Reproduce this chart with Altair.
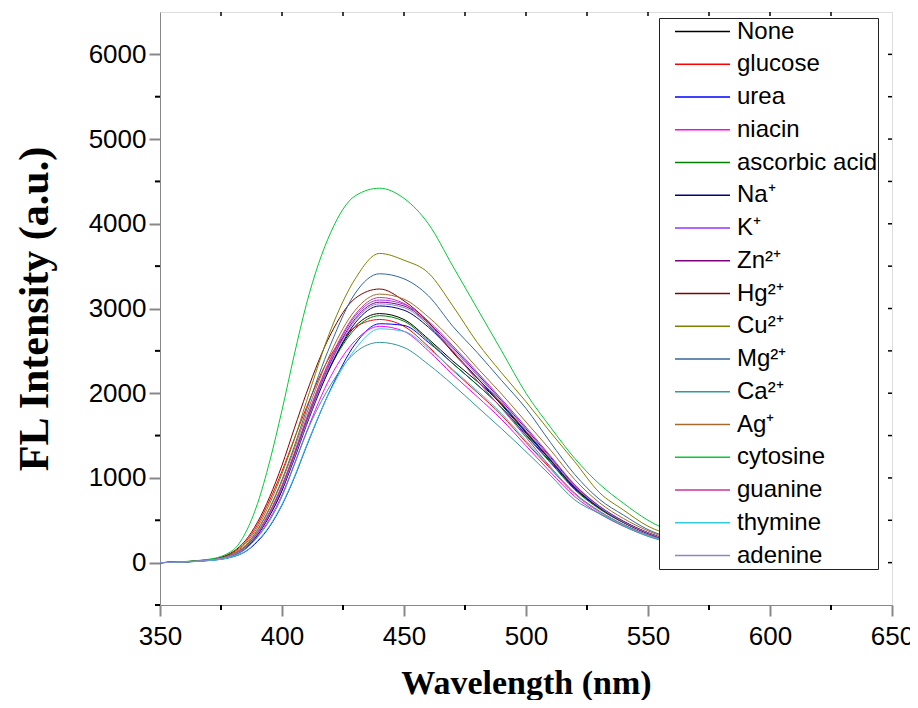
import altair as alt
import pandas as pd

# ---------------- data ----------------
wavelength = [350, 370, 380, 385, 390, 395, 400, 405, 410, 420, 430, 440, 450,
              460, 470, 480, 490, 500, 510, 520, 530, 540, 550, 560, 580, 600]

s_none = [0, 30, 90, 170, 330, 560, 850, 1250, 1650, 2330, 2790, 2940, 2870, 2640, 2380, 2140, 1870, 1540, 1210, 880, 650, 480, 350, 250, 130, 70]
s_glucose = [0, 32, 120, 240, 450, 740, 1080, 1460, 1830, 2450, 2780, 2870, 2790, 2550, 2270, 2010, 1740, 1420, 1110, 810, 600, 445, 325, 235, 122, 65]
s_urea = [0, 25, 70, 130, 250, 430, 680, 1000, 1370, 2050, 2580, 2820, 2800, 2600, 2350, 2100, 1830, 1510, 1190, 870, 645, 475, 345, 248, 128, 68]
s_niacin = [0, 28, 85, 160, 310, 520, 800, 1160, 1540, 2200, 2620, 2790, 2730, 2500, 2220, 1960, 1690, 1380, 1070, 780, 580, 430, 315, 228, 118, 62]
s_ascorbic = [0, 30, 92, 180, 345, 580, 880, 1260, 1650, 2320, 2760, 2915, 2850, 2620, 2350, 2100, 1830, 1500, 1180, 860, 635, 470, 345, 245, 128, 68]
s_na = [0, 30, 88, 170, 330, 560, 860, 1220, 1620, 2320, 2830, 3030, 2980, 2780, 2490, 2180, 1860, 1530, 1210, 885, 650, 475, 345, 245, 128, 68]
s_k = [0, 30, 95, 185, 355, 600, 910, 1280, 1690, 2400, 2910, 3100, 3050, 2850, 2560, 2250, 1930, 1600, 1260, 920, 670, 490, 355, 255, 130, 70]
s_zn = [0, 30, 90, 180, 345, 585, 890, 1260, 1660, 2370, 2880, 3075, 3030, 2830, 2540, 2230, 1910, 1580, 1245, 910, 665, 485, 350, 250, 130, 70]
s_hg = [0, 35, 130, 260, 480, 780, 1150, 1580, 2000, 2700, 3120, 3230, 3090, 2840, 2480, 2180, 1880, 1550, 1220, 895, 655, 485, 352, 252, 132, 70]
s_cu = [0, 30, 110, 220, 420, 700, 1050, 1450, 1900, 2750, 3350, 3650, 3570, 3420, 3030, 2600, 2240, 1900, 1540, 1190, 830, 620, 430, 320, 170, 90]
s_mg = [0, 30, 100, 200, 390, 650, 980, 1370, 1800, 2580, 3180, 3410, 3350, 3150, 2790, 2480, 2150, 1820, 1420, 1040, 750, 560, 390, 285, 150, 80]
s_ca = [0, 25, 80, 160, 300, 500, 780, 1150, 1530, 2100, 2480, 2600, 2540, 2340, 2100, 1840, 1580, 1310, 1030, 740, 580, 430, 310, 230, 120, 65]
s_ag = [0, 30, 100, 200, 380, 640, 960, 1340, 1750, 2480, 2980, 3170, 3110, 2900, 2620, 2300, 1990, 1660, 1330, 980, 710, 520, 375, 270, 140, 75]
s_cytosine = [0, 40, 150, 350, 700, 1200, 1800, 2450, 3050, 3900, 4330, 4420, 4300, 4000, 3500, 3000, 2500, 2000, 1600, 1230, 930, 700, 500, 360, 190, 100]
s_guanine = [0, 30, 95, 185, 355, 600, 910, 1290, 1700, 2420, 2930, 3130, 3060, 2800, 2500, 2150, 1820, 1480, 1130, 820, 610, 450, 330, 238, 124, 65]
s_thymine = [0, 25, 72, 135, 260, 440, 690, 1010, 1380, 2040, 2520, 2760, 2730, 2530, 2280, 2030, 1760, 1440, 1120, 810, 600, 440, 320, 232, 120, 63]
s_adenine = [0, 30, 90, 175, 340, 575, 875, 1240, 1640, 2350, 2860, 3055, 3010, 2810, 2520, 2210, 1890, 1560, 1230, 900, 660, 480, 350, 250, 130, 70]

series_names = ["None", "glucose", "urea", "niacin", "ascorbic acid", "Na⁺", "K⁺",
                "Zn²⁺", "Hg²⁺", "Cu²⁺", "Mg²⁺", "Ca²⁺", "Ag⁺", "cytosine",
                "guanine", "thymine", "adenine"]
series_values = [s_none, s_glucose, s_urea, s_niacin, s_ascorbic, s_na, s_k, s_zn,
                 s_hg, s_cu, s_mg, s_ca, s_ag, s_cytosine, s_guanine, s_thymine,
                 s_adenine]
series_colors = ["#000000", "#ff0000", "#0000ff", "#ff00ff", "#008000", "#000080",
                 "#9933ff", "#800080", "#800000", "#808000", "#336699", "#339999",
                 "#a66a2e", "#00cc33", "#cc3399", "#33ccdd", "#8888cc"]

x_major = [350, 400, 450, 500, 550, 600, 650]
x_minor = [375, 425, 475, 525, 575, 625]
x_top = [375, 400, 425, 450, 475, 500, 525, 550, 575, 600, 625]
y_major = [0, 1000, 2000, 3000, 4000, 5000, 6000]
y_minor = [-500, 500, 1500, 2500, 3500, 4500, 5500]
y_right = [0, 500, 1000, 1500, 2000, 2500, 3000, 3500, 4000, 4500, 5000, 5500, 6000]

rows = []
for name, vals in zip(series_names, series_values):
    for w, v in zip(wavelength, vals):
        rows.append({"wavelength": w, "intensity": v, "series": name})
df = pd.DataFrame(rows)

W, H = 732, 593
xscale = alt.Scale(domain=[350, 650], nice=False, zero=False)
yscale = alt.Scale(domain=[-500, 6500], nice=False, zero=False)

x_axis = alt.Axis(values=x_major, format="d", grid=False, title="Wavelength (nm)",
                  tickSize=11, tickWidth=2, labelPadding=7, labelFontSize=26,
                  labelFlush=False, titleFont="Liberation Serif",
                  titleFontWeight="bold", titleFontSize=34,
                  titleBaseline="alphabetic", titleY=88)
y_axis = alt.Axis(values=y_major, format="d", grid=False, title="FL Intensity (a.u.)",
                  tickSize=11, tickWidth=2, labelPadding=3, labelFontSize=26,
                  labelFlush=False, titleFont="Liberation Serif",
                  titleFontWeight="bold", titleFontSize=42,
                  titleBaseline="alphabetic", titleX=-113)

legend = alt.Legend(orient="none", legendX=499, legendY=6, direction="vertical",
                    symbolType="stroke", symbolSize=3025, symbolStrokeWidth=1.5,
                    symbolOffset=15, labelOffset=6,
                    labelFont="Liberation Sans",
                    labelFontSize=24, labelColor="black", labelLimit=400,
                    clipHeight=27, rowPadding=5.75, padding=0,
                    strokeColor="#222222", fillColor="white")

lines = alt.Chart(df).mark_line(strokeWidth=1, interpolate="monotone").encode(
    x=alt.X("wavelength:Q", scale=xscale, axis=x_axis),
    y=alt.Y("intensity:Q", scale=yscale, axis=y_axis),
    color=alt.Color("series:N", title=None,
                    scale=alt.Scale(domain=series_names, range=series_colors),
                    legend=legend),
)

bottom_minor = alt.Chart(pd.DataFrame({"wavelength": x_minor})).mark_rule(
    color="black", strokeWidth=2).encode(
    x=alt.X("wavelength:Q", scale=xscale, axis=x_axis),
    y=alt.value(H), y2=alt.value(H + 5))

top_ticks = alt.Chart(pd.DataFrame({"wavelength": x_top})).mark_rule(
    color="black", strokeWidth=1.5).encode(
    x=alt.X("wavelength:Q", scale=xscale, axis=x_axis),
    y=alt.value(0), y2=alt.value(4))

left_minor = alt.Chart(pd.DataFrame({"intensity": y_minor})).mark_rule(
    color="black", strokeWidth=2).encode(
    y=alt.Y("intensity:Q", scale=yscale, axis=y_axis),
    x=alt.value(0), x2=alt.value(-5))

right_ticks = alt.Chart(pd.DataFrame({"intensity": y_right})).mark_rule(
    color="black", strokeWidth=1.5).encode(
    y=alt.Y("intensity:Q", scale=yscale, axis=y_axis),
    x=alt.value(W), x2=alt.value(W - 4))

chart = alt.layer(lines, bottom_minor, top_ticks, left_minor, right_ticks).properties(
    width=W, height=H,
    autosize=alt.AutoSizeParams(type="none"),
    padding={"left": 152, "top": 4, "right": 18, "bottom": 95},
).configure_view(
    stroke="black", strokeWidth=2
).configure_axis(
    grid=False, domainColor="black", domainWidth=2, tickColor="black",
    labelColor="black", titleColor="black", labelFont="Liberation Sans"
).configure(background="white")

chart.save("out.html", embed_options={"renderer": "svg", "actions": False})
